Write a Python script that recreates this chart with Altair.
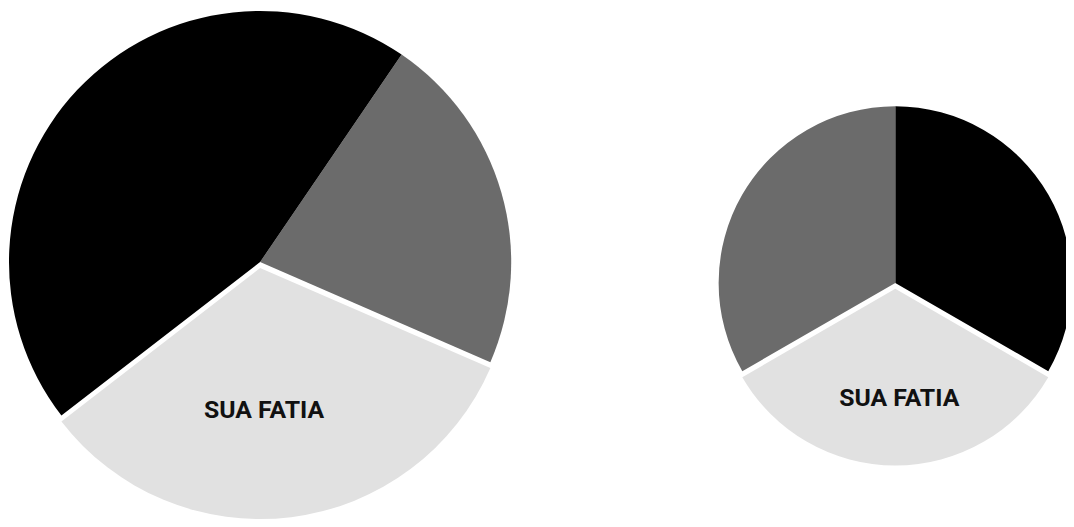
import altair as alt
import pandas as pd

# ---- data ----
pies = ["grande", "grande", "grande", "pequena", "pequena", "pequena"]
slices = ["cinza", "sua", "preto", "preto", "sua", "cinza"]
values = [22, 33, 45, 1, 1, 1]
order = [0, 1, 2, 0, 1, 2]
labels = ["", "SUA FATIA", "", "", "SUA FATIA", ""]

df = pd.DataFrame({"pie": pies, "slice": slices, "value": values,
                   "order": order, "label": labels})

# ---- layout / style ----
W, H = 1066, 519
ROT = {"grande": 34.3, "pequena": 0.0}      # start rotation (degrees)
CENTER = {"grande": (254, 254, 253), "pequena": (894, 275, 178)}
EXPLODE = 6
TEXT_POS = {"grande": (258, 403), "pequena": (898, 391)}

color = alt.Color("slice:N",
                  scale=alt.Scale(domain=["preto", "cinza", "sua"],
                                  range=["#000000", "#6b6b6b", "#e1e1e1"]),
                  legend=None)

base = (alt.Chart(df)
        .transform_joinaggregate(total="sum(value)", groupby=["pie"])
        .transform_window(cum="sum(value)", sort=[alt.SortField("order")],
                          groupby=["pie"], frame=[None, 0])
        .transform_calculate(rot=f"datum.pie == 'grande' ? {ROT['grande']} : {ROT['pequena']}")
        .transform_calculate(
            t0="datum.rot*PI/180 + (datum.cum - datum.value)/datum.total*2*PI",
            t1="datum.rot*PI/180 + datum.cum/datum.total*2*PI"))

layers = []
for p in ["grande", "pequena"]:
    cx, cy, r = CENTER[p]
    others = (base.transform_filter(f"datum.pie == '{p}' && datum.slice != 'sua'")
              .mark_arc(radius=r)
              .encode(theta=alt.Theta("t0:Q", scale=None, stack=None),
                      theta2="t1:Q", color=color,
                      x=alt.value(cx), y=alt.value(cy)))
    mine = (base.transform_filter(f"datum.pie == '{p}' && datum.slice == 'sua'")
            .mark_arc(radius=r)
            .encode(theta=alt.Theta("t0:Q", scale=None, stack=None),
                    theta2="t1:Q", color=color,
                    x=alt.value(cx), y=alt.value(cy + EXPLODE)))
    tx, ty = TEXT_POS[p]
    text = (base.transform_filter(f"datum.pie == '{p}' && datum.slice == 'sua'")
            .mark_text(font="Roboto", fontWeight="bold", fontSize=25,
                       align="center", baseline="middle", color="#111111")
            .encode(text="label:N", x=alt.value(tx), y=alt.value(ty)))
    layers += [others, mine, text]

chart = (alt.layer(*layers)
         .properties(width=W, height=H, autosize=alt.AutoSizeParams(type="none"),
                     padding=0, background="white")
         .configure_view(stroke=None))

chart.save("out.html", embed_options={"renderer": "svg", "actions": False})
